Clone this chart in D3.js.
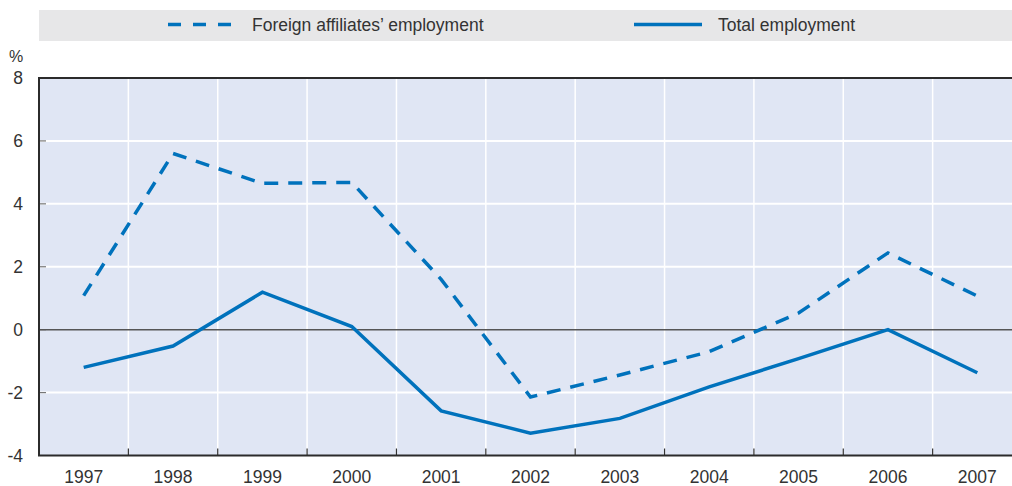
<!DOCTYPE html>
<html>
<head>
<meta charset="utf-8">
<script src="https://cdn.jsdelivr.net/npm/d3@7"></script>
<style>
  html, body { margin: 0; padding: 0; background: #fff; }
  svg { display: block; font-family: "Liberation Sans", Arial, sans-serif; }
</style>
</head>
<body>
<div id="chart"></div>
<script>
const years = ["1997","1998","1999","2000","2001","2002","2003","2004","2005","2006","2007"];
const foreignEmployment = [1.08, 5.6, 4.65, 4.68, 1.6, -2.14, -1.44, -0.7, 0.53, 2.44, 1.07];
const totalEmployment   = [-1.2, -0.52, 1.19, 0.1, -2.58, -3.29, -2.82, -1.82, -0.92, 0.0, -1.37];
const yTicks = [-4, -2, 0, 2, 4, 6, 8];
const seriesNames = ["Foreign affiliates\u2019 employment", "Total employment"];

const W = 1012, H = 486;
const m = { left: 39, top: 78, right: 1022, bottom: 455.5 };
const blue = "#0072bc";
const fs = 17.5;

const svg = d3.select("#chart").append("svg")
  .attr("width", W).attr("height", H)
  .attr("viewBox", [0, 0, W, H]);

const x = d3.scaleBand().domain(years).range([m.left, m.right]).padding(0);
const y = d3.scaleLinear().domain([-4, 8]).range([m.bottom, m.top]);

// legend
const lg = svg.append("g");
lg.append("rect").attr("x", 39).attr("y", 10).attr("width", W - 39).attr("height", 31).attr("fill", "#e7e7e8");
lg.append("line").attr("x1", 168).attr("x2", 233).attr("y1", 24.5).attr("y2", 24.5)
  .attr("stroke", blue).attr("stroke-width", 3.5).attr("stroke-dasharray", "13,12");
lg.append("text").attr("x", 252).attr("y", 31).attr("font-size", fs).attr("fill", "#333").text(seriesNames[0]);
lg.append("line").attr("x1", 634).attr("x2", 702).attr("y1", 24.5).attr("y2", 24.5)
  .attr("stroke", blue).attr("stroke-width", 3.5);
lg.append("text").attr("x", 718).attr("y", 31).attr("font-size", fs).attr("fill", "#333").text(seriesNames[1]);

// plot background
svg.append("rect").attr("x", m.left).attr("y", m.top)
  .attr("width", m.right - m.left).attr("height", m.bottom - m.top)
  .attr("fill", "#e0e6f4");

// grid
const bounds = years.slice(1).map(d => x(d));
svg.append("g").selectAll("line").data(bounds).join("line")
  .attr("x1", d => d).attr("x2", d => d).attr("y1", m.top).attr("y2", m.bottom)
  .attr("stroke", "#fff").attr("stroke-width", 1.5);
svg.append("g").selectAll("line").data(yTicks.filter(v => v !== 0 && v !== -4 && v !== 8)).join("line")
  .attr("x1", m.left).attr("x2", W).attr("y1", d => y(d)).attr("y2", d => y(d))
  .attr("stroke", "#fff").attr("stroke-width", 2);

// y axis ticks
svg.append("g").selectAll("line").data(yTicks.filter(v => v !== -4 && v !== 8)).join("line")
  .attr("x1", m.left).attr("x2", m.left + 7).attr("y1", d => y(d)).attr("y2", d => y(d))
  .attr("stroke", "#777").attr("stroke-width", 1.2);
svg.append("g").selectAll("text").data(yTicks).join("text")
  .attr("x", 23).attr("y", d => y(d)).attr("dy", "0.36em")
  .attr("text-anchor", "end").attr("font-size", fs).attr("fill", "#333")
  .text(d => d);
svg.append("text").attr("x", 9).attr("y", 62).attr("font-size", 16).attr("fill", "#333").text("%");

// zero line
svg.append("line").attr("x1", m.left).attr("x2", W).attr("y1", y(0)).attr("y2", y(0))
  .attr("stroke", "#555").attr("stroke-width", 1.5);

// x axis ticks + labels
svg.append("g").selectAll("line").data(bounds).join("line")
  .attr("x1", d => d).attr("x2", d => d).attr("y1", m.bottom).attr("y2", m.bottom - 7)
  .attr("stroke", "#333").attr("stroke-width", 1.2);
svg.append("g").selectAll("text").data(years).join("text")
  .attr("x", d => x(d) + x.bandwidth() / 2).attr("y", 483)
  .attr("text-anchor", "middle").attr("font-size", fs).attr("fill", "#333")
  .text(d => d);

// frame: left, top, bottom
svg.append("path")
  .attr("d", `M${W},${m.top}H${m.left}V${m.bottom}H${W}`)
  .attr("fill", "none").attr("stroke", "#2b2b2b").attr("stroke-width", 2);

// series
const line = d3.line()
  .x((d, i) => x(years[i]) + x.bandwidth() / 2)
  .y(d => y(d));
svg.append("path").datum(foreignEmployment).attr("d", line)
  .attr("fill", "none").attr("stroke", blue).attr("stroke-width", 3.5)
  .attr("stroke-dasharray", "14,10");
svg.append("path").datum(totalEmployment).attr("d", line)
  .attr("fill", "none").attr("stroke", blue).attr("stroke-width", 3.5);
</script>
</body>
</html>
